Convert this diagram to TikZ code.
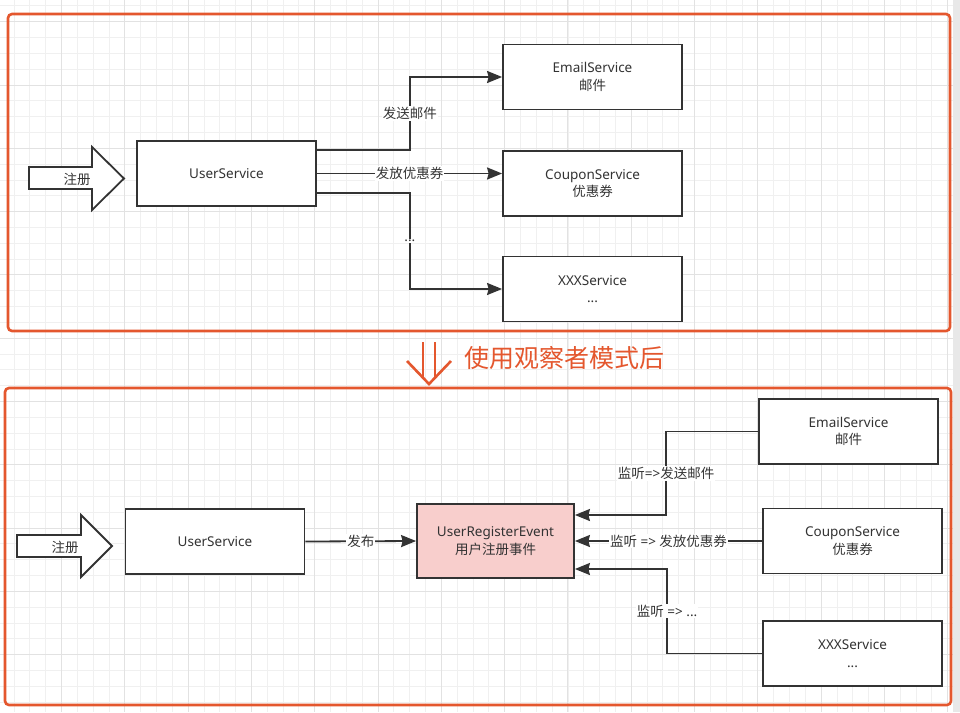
\documentclass[tikz,border=0pt]{standalone}
\usepackage{fontspec}
\setmainfont{Noto Sans}
\newfontfamily\cjk{Noto Sans CJK SC}
\newcommand{\zh}[1]{{\cjk #1}}
\usetikzlibrary{positioning, arrows.meta, calc}

\definecolor{frameorange}{HTML}{E4572E}
\definecolor{linegray}{HTML}{333333}
\definecolor{eventpink}{HTML}{F8CECC}
\definecolor{gridminor}{HTML}{F0F0F0}
\definecolor{gridmajor}{HTML}{E2E2E2}

\begin{document}
\begin{tikzpicture}[
    x=1pt, y=-1pt,
    service/.style={rectangle, draw=linegray, line width=1.8pt, fill=white, minimum width=179pt, minimum height=65pt, align=center, font=\fontsize{13.5}{17.5}\selectfont, text=linegray},
    event/.style={service, fill=eventpink, minimum width=157pt, minimum height=74pt},
    flow/.style={draw=linegray, line width=1.8pt, -{Stealth[length=15pt, width=12pt, inset=1.5pt]}},
    edgetext/.style={fill=white, inner sep=1pt, font=\fontsize{13.5}{15}\selectfont, text=linegray},
    groupframe/.style={draw=frameorange, line width=2.6pt, rounded corners=4pt},
    bigarrow/.style={draw=linegray, line width=1.8pt, fill=white, line join=miter},
    regtext/.style={font=\fontsize{13.5}{15}\selectfont, text=linegray, inner sep=1pt}
]
    \useasboundingbox (0,0) rectangle (960,712);

    % Background grid
    \fill[white] (0,0) rectangle (953,712);
    \begin{scope}
        \clip (0,0) rectangle (953,712);
        \foreach \gx in {0,...,61}
            \draw[gridminor, line width=0.8pt] ({-1.8+15.825*\gx},0) -- ++(0,712);
        \foreach \gy in {0,...,46}
            \draw[gridminor, line width=0.8pt] (0,{-10+15.825*\gy}) -- ++(953,0);
        \foreach \gx in {0,...,15}
            \draw[gridmajor, line width=0.9pt] ({-1.8+63.3*\gx},0) -- ++(0,712);
        \foreach \gy in {0,...,11}
            \draw[gridmajor, line width=0.9pt] (0,{21.7+63.3*\gy}) -- ++(953,0);
    \end{scope}
    \fill[black!9] (953,0) rectangle (960,712);

    % Frames
    \draw[groupframe] (8,14) rectangle (950,331);
    \draw[groupframe] (5,388) rectangle (951,705);

    % Before: direct calls
    \draw[bigarrow] (29,167) -- (92,167) -- (92,147) -- (124,178.5) -- (92,210) -- (92,189) -- (29,189) -- cycle;
    \node[regtext] (reg1) at (77,179) {\zh{注册}};

    \node[service] (user1) at (226.5,173.5) {UserService};
    \node[service] (email1) at (592.5,77) {EmailService\\\zh{邮件}};
    \node[service] (coupon1) at (592.5,183.5) {CouponService\\\zh{优惠券}};
    \node[service] (xxx1) at (592.5,289) {XXXService\\...};

    \draw[flow] ([yshift=23.5pt]user1.east) -- ++(93,0) |- node[edgetext, pos=0.25] {\zh{发送邮件}} (email1.west);
    \draw[flow] (user1.east) -- node[edgetext] {\zh{发放优惠券}} (user1.east -| coupon1.west);
    \draw[flow] ([yshift=-19.5pt]user1.east) -- ++(93,0) |- node[edgetext, pos=0.25] {...} (xxx1.west);

    % Transition
    \draw[frameorange, line width=2.6pt] (423,342) -- (423,378);
    \draw[frameorange, line width=2.6pt] (435,342) -- (435,378);
    \draw[frameorange, line width=2.6pt, line join=miter] (407,361) -- (429,384) -- (451,361);
    \node[font=\fontsize{25}{28}\selectfont, text=frameorange, inner sep=0pt] (aftertext) at (564,358) {\zh{使用观察者模式后}};

    % After: observer pattern
    \draw[bigarrow] (17,535) -- (81,535) -- (81,515) -- (112,546) -- (81,577) -- (81,557) -- (17,557) -- cycle;
    \node[regtext] (reg2) at (65,547) {\zh{注册}};

    \node[service] (user2) at (215,541.5) {UserService};
    \node[event] (event) at (495.5,541) {UserRegisterEvent\\\zh{用户注册事件}};
    \node[service] (email2) at (848.5,431.5) {EmailService\\\zh{邮件}};
    \node[service] (coupon2) at (852.5,541) {CouponService\\\zh{优惠券}};
    \node[service] (xxx2) at (852.5,653.5) {XXXService\\...};

    \draw[flow] (user2.east) -- node[edgetext] {\zh{发布}} (event.west);
    \draw[flow] (email2.west) -- ++(-92,0) |- node[edgetext, pos=0.25] {\zh{监听}=>\zh{发送邮件}} ([yshift=26pt]event.east);
    \draw[flow] (coupon2.west) -- node[edgetext] {\zh{监听} => \zh{发放优惠券}} (event.east);
    \draw[flow] (xxx2.west) -- ++(-95,0) |- node[edgetext, pos=0.25] {\zh{监听} => ...} ([yshift=-28pt]event.east);
\end{tikzpicture}
\end{document}
